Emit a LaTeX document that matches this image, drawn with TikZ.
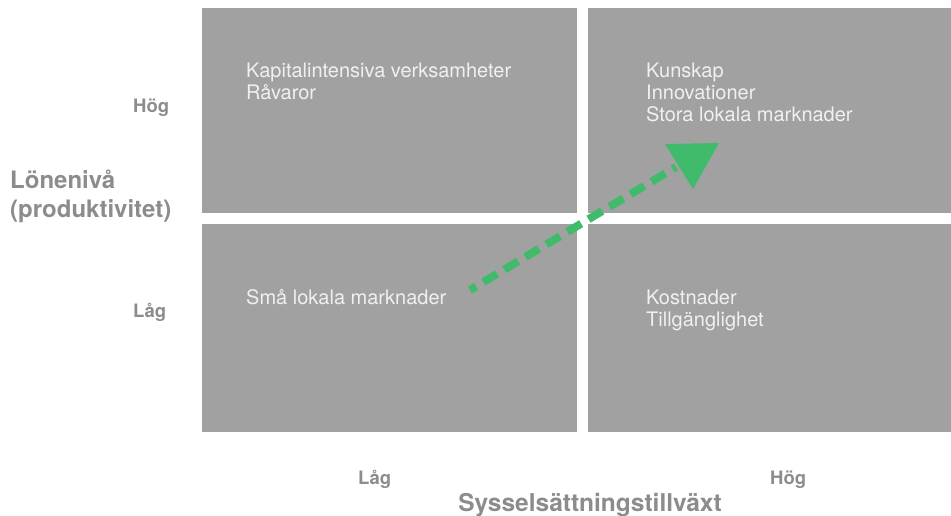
\documentclass[tikz,border=0pt]{standalone}
\usepackage{fontspec}
\setmainfont{TeX Gyre Heros}
\definecolor{boxgray}{HTML}{A1A1A1}
\definecolor{boxtext}{HTML}{F0F0F0}
\definecolor{labgray}{HTML}{8C8C8C}
\definecolor{arrowgreen}{HTML}{3FBB6B}
\begin{document}
\begin{tikzpicture}[x=1pt,y=-1pt,
  quad/.style={fill=boxgray, draw=none, inner sep=0pt, anchor=north west},
  quadtext/.style={text=boxtext, anchor=base west, align=left, inner sep=0pt,
    font=\fontsize{20}{22}\selectfont},
  axislab/.style={text=labgray, inner sep=0pt, font=\bfseries\fontsize{24}{29}\selectfont},
  ticklab/.style={text=labgray, inner sep=0pt, anchor=base west, font=\bfseries\fontsize{18.5}{22}\selectfont},
  trend/.style={arrowgreen, line width=8pt, dash pattern=on 16pt off 8.5pt, dash phase=9pt}
]
\useasboundingbox (0,0) rectangle (951,515);
% quadrants
\node[quad, minimum width=375pt, minimum height=205pt] (tl) at (202,8) {};
\node[quad, minimum width=363pt, minimum height=205pt] (tr) at (588,8) {};
\node[quad, minimum width=375pt, minimum height=208pt] (bl) at (202,224) {};
\node[quad, minimum width=363pt, minimum height=208pt] (br) at (588,224) {};
% quadrant texts (base anchor = baseline of the last line)
\node[quadtext] (tltext) at (246,99) {Kapitalintensiva verksamheter\\Råvaror};
\node[quadtext] (trtext) at (646,121) {Kunskap\\Innovationer\\Stora lokala marknader};
\node[quadtext] (bltext) at (246,304) {Små lokala marknader};
\node[quadtext] (brtext) at (646,326) {Kostnader\\Tillgänglighet};
% axis labels
\node[axislab, anchor=base west, align=left] (ylab) at (10,217) {Lönenivå\\(produktivitet)};
\node[axislab, anchor=base, font=\bfseries\fontsize{24.5}{29}\selectfont] (xlab) at (590,511) {Sysselsättningstillväxt};
\node[ticklab] (yhi) at (133,112) {Hög};
\node[ticklab] (ylo) at (133,317) {Låg};
\node[ticklab] (xlo) at (358,484) {Låg};
\node[ticklab] (xhi) at (770,484) {Hög};
% trend arrow
\coordinate (tstart) at (470,290);
\coordinate (tend) at (676,167);
\coordinate (h1) at (665,144);
\coordinate (h2) at (719,143);
\coordinate (h3) at (693,189);
\draw[trend] (tstart) -- (tend);
\fill[arrowgreen] (h1) -- (h2) -- (h3) -- cycle;
\end{tikzpicture}
\end{document}
